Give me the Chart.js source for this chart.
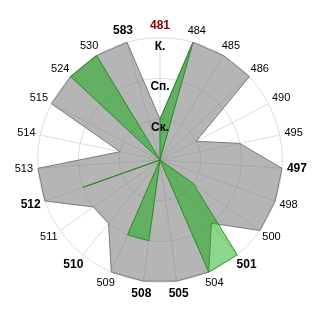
<!DOCTYPE html>
<html>
<head>
<meta charset="utf-8">
<script src="https://cdn.jsdelivr.net/npm/chart.js@4/dist/chart.umd.min.js"></script>
<style>
html,body{margin:0;padding:0;background:#fff;}
#wrap{width:320px;height:320px;}
</style>
</head>
<body>
<div id="wrap"><canvas id="c" width="320" height="320"></canvas></div>
<script>
const categories = ['481','484','485','486','490','495','497','498','500','501','504','505','508','509','510','511','512','513','514','515','524','530','583'];
const greySeries = [1,3,3,3,1,2,3,3,3,2,3,3,3,3,2,2,3,3,1,3,3,3,3];
const greenSeries = [1,3,0,0,0,0,0,0,1,3,3,0,2,2,0,0,2,0,0,0,3,3,0];
const tickLabels = ['', 'Ск.', 'Сп.', 'К.'];
const boldLabels = ['497','501','505','508','510','512','583'];
const redLabel = '481';

// Place each category label so that its box sits outward from its anchor point
// (smoothly interpolated alignment instead of left/right/center steps).
const labelPlacement = {
  id: 'labelPlacement',
  afterLayout(chart) {
    const scale = chart.scales.r;
    const items = scale && scale._pointLabelItems;
    if (!items) return;
    const dist = scale.drawingArea + 5;
    items.forEach((item, i) => {
      const w = item.right - item.left;
      const h = item.bottom - item.top;
      const a = scale.getIndexAngle(i);
      const p = scale.getPointPosition(i, dist);
      const cx = p.x + Math.sin(a) * w / 2;
      const cy = p.y - Math.cos(a) * h / 2;
      item.x = cx;
      item.y = cy - h / 2;
      item.textAlign = 'center';
      item.left = cx - w / 2;
      item.right = cx + w / 2;
      item.top = cy - h / 2;
      item.bottom = cy + h / 2;
    });
  }
};

new Chart(document.getElementById('c'), {
  type: 'radar',
  data: {
    labels: categories,
    datasets: [
      {
        data: greenSeries,
        backgroundColor: 'rgba(0,170,0,0.45)',
        borderColor: 'rgba(30,140,30,0.9)',
        borderWidth: 1,
        pointRadius: 0,
        tension: 0
      },
      {
        data: greySeries,
        backgroundColor: 'rgba(120,120,120,0.55)',
        borderColor: '#7a7a7a',
        borderWidth: 1,
        pointRadius: 0,
        tension: 0
      }
    ]
  },
  options: {
    responsive: false,
    animation: false,
    layout: {padding: {top: 14, bottom: 14, left: 15, right: 12}},
    plugins: {legend: {display: false}, tooltip: {enabled: false}},
    scales: {
      r: {
        min: 0,
        max: 3,
        ticks: {
          stepSize: 1,
          z: 1,
          showLabelBackdrop: false,
          backdropPadding: 0,
          color: '#000',
          font: {family: 'Liberation Sans', size: 12, weight: 'bold', lineHeight: '8.5px'},
          callback: (v) => ['', tickLabels[v] || '']
        },
        grid: {circular: true, color: '#dcdcdc', lineWidth: 1},
        angleLines: {color: '#dcdcdc', lineWidth: 1},
        pointLabels: {
          padding: -1,
          color: (ctx) => ctx.label === redLabel ? '#8b0000' : '#000',
          font: (ctx) => {
            if (ctx.label === redLabel) return {family: 'Liberation Sans', size: 12, weight: 'bold'};
            if (boldLabels.includes(ctx.label)) return {family: 'Liberation Sans', size: 12, weight: 'bold'};
            return {family: 'Liberation Sans', size: 11, weight: 'normal'};
          }
        }
      }
    }
  },
  plugins: [labelPlacement]
});
</script>
</body>
</html>
